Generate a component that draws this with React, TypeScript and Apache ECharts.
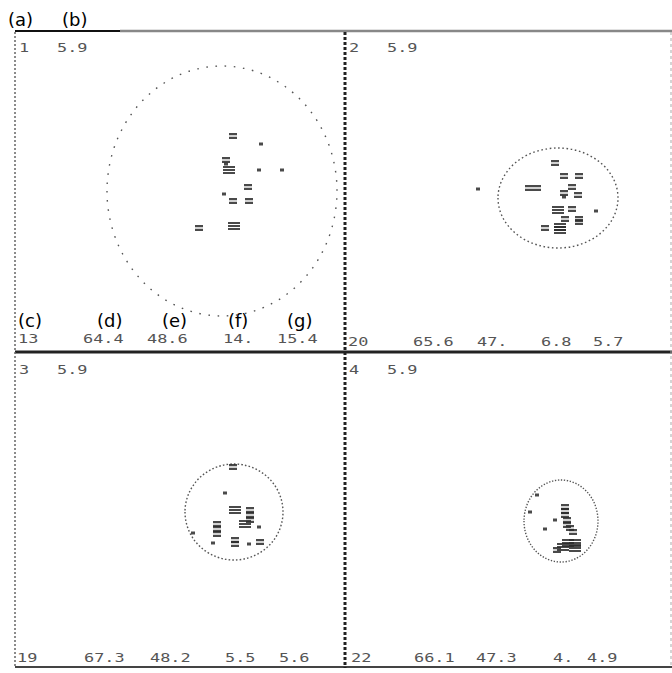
import React, { useEffect, useRef } from "react";
import * as echarts from "echarts";

// ---- data (local panel units) ----
const panelIds = ["1", "2", "3", "4"];
const topValues = ["5.9", "5.9", "5.9", "5.9"];
const bottomLabels = [
  ["13", "64.4", "48.6", "14.", "15.4"],
  ["20", "65.6", "47.", "6.8", "5.7"],
  ["19", "67.3", "48.2", "5.5", "5.6"],
  ["22", "66.1", "47.3", "4.", "4.9"],
];
const topLetters = ["(a)", "(b)"];
const bottomLetters = ["(c)", "(d)", "(e)", "(f)", "(g)"];

// ellipse: [cx, cy, rx, ry]
const circle1 = [207, 159, 115, 125];
const circle2 = [213, 166, 60, 50];
const circle3 = [219, 160, 49, 48];
const circle4 = [216, 169, 37, 41];

// points: [x, y, multiplicity]
const points1 = [
  [218, 104, 2], [246, 112, 1], [211, 128, 2], [211, 132, 1], [214, 138, 3],
  [244, 138, 1], [267, 138, 1], [233, 155, 2], [209, 162, 1], [218, 169, 2],
  [234, 169, 2], [184, 196, 2], [219, 194, 3],
];
const points2 = [
  [133, 157, 1], [210, 131, 2], [219, 144, 2], [234, 144, 2], [184, 156, 2],
  [192, 156, 2], [227, 155, 2], [219, 161, 2], [219, 165, 1], [233, 163, 2],
  [213, 178, 3], [227, 177, 2], [251, 179, 1], [220, 187, 2], [234, 187, 2],
  [234, 190, 2], [200, 196, 2], [215, 195, 3], [215, 198, 3],
];
const points3 = [
  [218, 115, 2], [210, 141, 1], [220, 158, 3], [235, 158, 2], [235, 163, 2],
  [235, 168, 2], [230, 172, 3], [244, 175, 1], [202, 172, 2], [202, 177, 2],
  [202, 182, 2], [178, 181, 1], [198, 191, 1], [220, 188, 2], [220, 192, 2],
  [234, 192, 1], [245, 190, 2],
];
const points4 = [
  [220, 155, 2], [220, 159, 2], [220, 163, 2], [210, 168, 1], [222, 168, 2],
  [222, 173, 2], [225, 176, 2], [228, 180, 2], [200, 177, 1], [185, 160, 1],
  [192, 143, 1], [223, 191, 3], [230, 191, 3], [218, 195, 3], [230, 196, 3],
  [212, 198, 2],
];

const circles = [circle1, circle2, circle3, circle4];
const pointSets = [points1, points2, points3, points4];

// ---- layout ----
const W = 672;
const H = 673;
const panels = [
  { left: 15, top: 32, width: 330, height: 320 },
  { left: 345, top: 32, width: 327, height: 320 },
  { left: 15, top: 352, width: 330, height: 316 },
  { left: 345, top: 352, width: 327, height: 316 },
];
const topLabelY = [48, 48, 370, 370];
const bottomLabelY = [339, 342, 658, 658];
const bottomLabelX = [
  [3, 68, 132, 208, 262],
  [3, 68, 132, 196, 248],
  [2, 69, 135, 210, 264],
  [6, 69, 131, 208, 242],
];
const topLetterX = [8, 62];
const bottomLetterX = [18, 97, 162, 228, 287];

const SYMBOLS: Record<number, string> = {
  1: "rect",
  2: "path://M0,0H8V2.2H0Z M0,3.8H8V6H0Z",
  3: "path://M0,0H10V2H0Z M0,3H10V5H0Z M0,6H10V8H0Z",
};
const SIZES: Record<number, number[]> = {
  1: [4, 3],
  2: [8, 6],
  3: [12, 8],
};

export default function App() {
  const ref = useRef<HTMLDivElement>(null);
  useEffect(() => {
    document.body.style.margin = "0";
    const chart = echarts.init(ref.current!, null, { renderer: "svg" });

    const grid = panels.map((p) => ({ ...p, containLabel: false, show: false }));
    const xAxis = panels.map((p, i) => ({
      type: "value", gridIndex: i, min: 0, max: p.width, show: false,
    }));
    const yAxis = panels.map((p, i) => ({
      type: "value", gridIndex: i, min: 0, max: p.height, inverse: true, show: false,
    }));

    const series: any[] = [];
    panels.forEach((p, i) => {
      series.push({
        type: "custom",
        xAxisIndex: i,
        yAxisIndex: i,
        silent: true,
        data: [circles[i]],
        renderItem: (params: any, api: any) => {
          const c = api.coord([api.value(0), api.value(1)]);
          const s = api.size([api.value(2), api.value(3)]);
          const rx = s[0];
          const ry = s[1];
          const per = Math.PI * (3 * (rx + ry) - Math.sqrt((3 * rx + ry) * (rx + 3 * ry)));
          const step = per / 82;
          const on = Math.min(1.6, step * 0.45);
          const d = `M${c[0] - rx},${c[1]} A${rx},${ry} 0 1 0 ${c[0] + rx},${c[1]} A${rx},${ry} 0 1 0 ${c[0] - rx},${c[1]} Z`;
          return {
            type: "path",
            shape: { pathData: d },
            style: {
              fill: "none",
              stroke: "#555",
              lineWidth: 1.4,
              lineDash: [on, step - on],
            },
          };
        },
      });
      series.push({
        type: "scatter",
        xAxisIndex: i,
        yAxisIndex: i,
        silent: true,
        itemStyle: { color: "#2a2a2a", opacity: 0.85 },
        data: pointSets[i].map(([x, y, n]) => ({
          value: [x, y],
          symbol: SYMBOLS[n],
          symbolSize: SIZES[n],
        })),
      });
    });

    const numStyle = (text: string, x: number, y: number) => ({
      type: "text",
      x,
      y,
      scaleX: 1.3,
      style: {
        text,
        fill: "#555",
        font: "13px 'DejaVu Sans Mono', monospace",
        verticalAlign: "middle",
      },
    });
    const letterStyle = (text: string, x: number, y: number) => ({
      type: "text",
      x,
      y,
      style: {
        text,
        fill: "#000",
        font: "18px 'DejaVu Sans', sans-serif",
        verticalAlign: "middle",
      },
    });

    const graphic: any[] = [];
    graphic.push({ type: "line", shape: { x1: 15, y1: 31, x2: 120, y2: 31 }, style: { stroke: "#111", lineWidth: 2 } });
    graphic.push({ type: "line", shape: { x1: 120, y1: 31, x2: 672, y2: 31 }, style: { stroke: "#888", lineWidth: 2.5 } });
    graphic.push({ type: "line", shape: { x1: 15, y1: 352, x2: 672, y2: 352 }, style: { stroke: "#222", lineWidth: 3 } });
    graphic.push({ type: "line", shape: { x1: 15, y1: 667, x2: 672, y2: 667 }, style: { stroke: "#444", lineWidth: 2 } });
    graphic.push({ type: "line", shape: { x1: 15, y1: 32, x2: 15, y2: 668 }, style: { stroke: "#666", lineWidth: 1.5, lineDash: [2, 2] } });
    graphic.push({ type: "line", shape: { x1: 345, y1: 32, x2: 345, y2: 668 }, style: { stroke: "#222", lineWidth: 3, lineDash: [3, 2] } });
    graphic.push({ type: "line", shape: { x1: 671, y1: 32, x2: 671, y2: 668 }, style: { stroke: "#aaa", lineWidth: 1, lineDash: [3, 3] } });

    panels.forEach((p, i) => {
      graphic.push(numStyle(panelIds[i], p.left + 4, topLabelY[i]));
      graphic.push(numStyle(topValues[i], p.left + 42, topLabelY[i]));
      bottomLabels[i].forEach((t, j) => {
        graphic.push(numStyle(t, p.left + bottomLabelX[i][j], bottomLabelY[i]));
      });
    });
    topLetters.forEach((t, j) => graphic.push(letterStyle(t, topLetterX[j], 19)));
    bottomLetters.forEach((t, j) => graphic.push(letterStyle(t, bottomLetterX[j], 320)));

    chart.setOption({
      animation: false,
      backgroundColor: "#fff",
      grid,
      xAxis,
      yAxis,
      series,
      graphic,
    });
    return () => chart.dispose();
  }, []);
  return <div ref={ref} style={{ width: W, height: H, position: "absolute", left: 0, top: 0 }} />;
}
